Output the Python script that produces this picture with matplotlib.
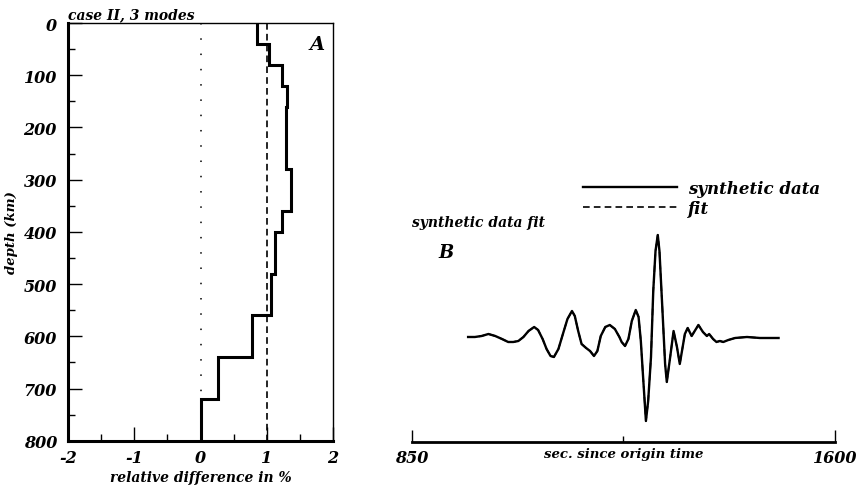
import matplotlib
matplotlib.use("Agg")
import matplotlib.pyplot as plt

# panel A: layered model, relative difference (%) per depth layer
layer_top = [0, 40, 80, 120, 160, 280, 360, 400, 480, 560, 640, 720]
layer_bot = [40, 80, 120, 160, 280, 360, 400, 480, 560, 640, 720, 800]
rel_diff = [0.85, 1.04, 1.23, 1.31, 1.29, 1.36, 1.23, 1.12, 1.07, 0.78, 0.26, 0.0]
fit_level = 1.0

# panel B: synthetic waveform (seconds since origin time, arbitrary amplitude)
wave_t = [950, 962, 974, 986, 998, 1010, 1021, 1030, 1039, 1048, 1057, 1067,
          1074, 1082, 1089, 1096, 1102, 1110, 1119, 1126, 1134, 1139, 1145,
          1151, 1159, 1166, 1173, 1179, 1185, 1193, 1201, 1210, 1218, 1222,
          1228, 1234, 1240, 1247, 1252, 1256, 1260, 1265, 1269, 1274, 1278,
          1282, 1286, 1289, 1294, 1299, 1302, 1308, 1314, 1320, 1325, 1334,
          1339, 1346, 1358, 1366, 1373, 1377, 1384, 1390, 1396, 1402, 1411,
          1423, 1444, 1467, 1500]
wave_a = [0.01, 0.01, 0.02, 0.04, 0.02, -0.01, -0.04, -0.04, -0.03, 0.01, 0.07, 0.11,
          0.08, -0.01, -0.11, -0.18, -0.19, -0.11, 0.06, 0.19, 0.27, 0.22, 0.07,
          -0.06, -0.10, -0.13, -0.18, -0.13, 0.02, 0.11, 0.13, 0.09, 0.01, -0.04,
          -0.08, -0.01, 0.17, 0.28, 0.21, -0.03, -0.39, -0.83, -0.63, -0.19, 0.47,
          0.87, 1.03, 0.87, 0.31, -0.26, -0.44, -0.19, 0.07, -0.09, -0.26, 0.04,
          0.10, 0.02, 0.13, 0.06, 0.02, 0.04, -0.01, -0.04, -0.03, -0.04, -0.02,
          0.00, 0.01, 0.00, 0.00]
fit_a = list(wave_a)  # the fit lies on top of the data

plt.rcParams['font.family'] = 'DejaVu Serif'
plt.rcParams['font.style'] = 'italic'
plt.rcParams['font.weight'] = 'bold'
plt.rcParams['axes.labelweight'] = 'bold'
plt.rcParams['axes.unicode_minus'] = False

fig = plt.figure(figsize=(8.58, 4.89), dpi=100)

# ---- panel A
ax = fig.add_axes([0.0793, 0.0967, 0.3088, 0.8542])
xs, ys = [], []
for top, bot, v in zip(layer_top, layer_bot, rel_diff):
    xs += [v, v]
    ys += [top, bot]
ax.plot(xs, ys, color='black', lw=2.2, solid_joinstyle='miter')
ax.plot([fit_level, fit_level], [0, 800], color='black', lw=1.2, ls=(0, (4, 2.5)))
ax.plot([0, 0], [0, 720], color='black', lw=1.1, ls=(0, (1, 9)))
ax.set_xlim(-2, 2)
ax.set_ylim(800, 0)
ax.set_xticks([-2, -1, 0, 1, 2])
ax.set_xticks([-1.5, -0.5, 0.5, 1.5], minor=True)
ax.set_yticks(range(0, 801, 100))
ax.set_yticks(range(50, 800, 100), minor=True)
ax.tick_params(direction='in', length=10, width=1, labelsize=11.5, pad=6)
ax.tick_params(which='minor', direction='in', length=5, width=1)
ax.tick_params(axis='y', pad=8)
ax.spines['left'].set_linewidth(2.2)
ax.spines['bottom'].set_linewidth(2.2)
ax.spines['top'].set_linewidth(1.0)
ax.spines['right'].set_linewidth(1.0)
ax.set_xlabel('relative difference in %', fontsize=10, labelpad=3)
ax.set_ylabel('depth (km)', fontsize=9.5, labelpad=4)
ax.text(0, 1.005, 'case II, 3 modes', transform=ax.transAxes, fontsize=10,
        ha='left', va='bottom')
ax.text(0.97, 0.95, 'A', transform=ax.transAxes, fontsize=14, ha='right', va='center')

# ---- panel B
bx = fig.add_axes([0.4798, 0.0941, 0.4934, 0.5378])
bx.plot(wave_t, wave_a, color='black', lw=1.7, label='synthetic data')
bx.plot(wave_t, fit_a, color='black', lw=1.2, ls=(0, (4, 2.5)), label='fit')
bx.set_xlim(850, 1600)
bx.set_ylim(-1.04, 1.59)
for s in ['left', 'right', 'top']:
    bx.spines[s].set_visible(False)
bx.spines['bottom'].set_linewidth(2.0)
bx.set_yticks([])
bx.set_xticks([850, 1600])
bx.set_xticks([1225], minor=True)
bx.tick_params(direction='in', length=9, width=1, labelsize=11.5, pad=5)
bx.tick_params(which='minor', direction='in', length=4, width=1)
bx.set_xlabel('sec. since origin time', fontsize=9.5)
bx.xaxis.set_label_coords(0.5, -0.045)
bx.xaxis.label.set_va('center')
bx.text(0.0, 0.8365, 'synthetic data fit', transform=bx.transAxes, fontsize=10,
        ha='left', va='center')
bx.text(0.064, 0.722, 'B', transform=bx.transAxes, fontsize=13, ha='left', va='center')
bx.legend(loc='upper left', bbox_to_anchor=(0.68, 0.63), bbox_transform=fig.transFigure,
          frameon=False, fontsize=12, handlelength=5.6, handletextpad=0.7,
          labelspacing=0.2, borderpad=0, borderaxespad=0)

fig.savefig('out.png', dpi=100)
